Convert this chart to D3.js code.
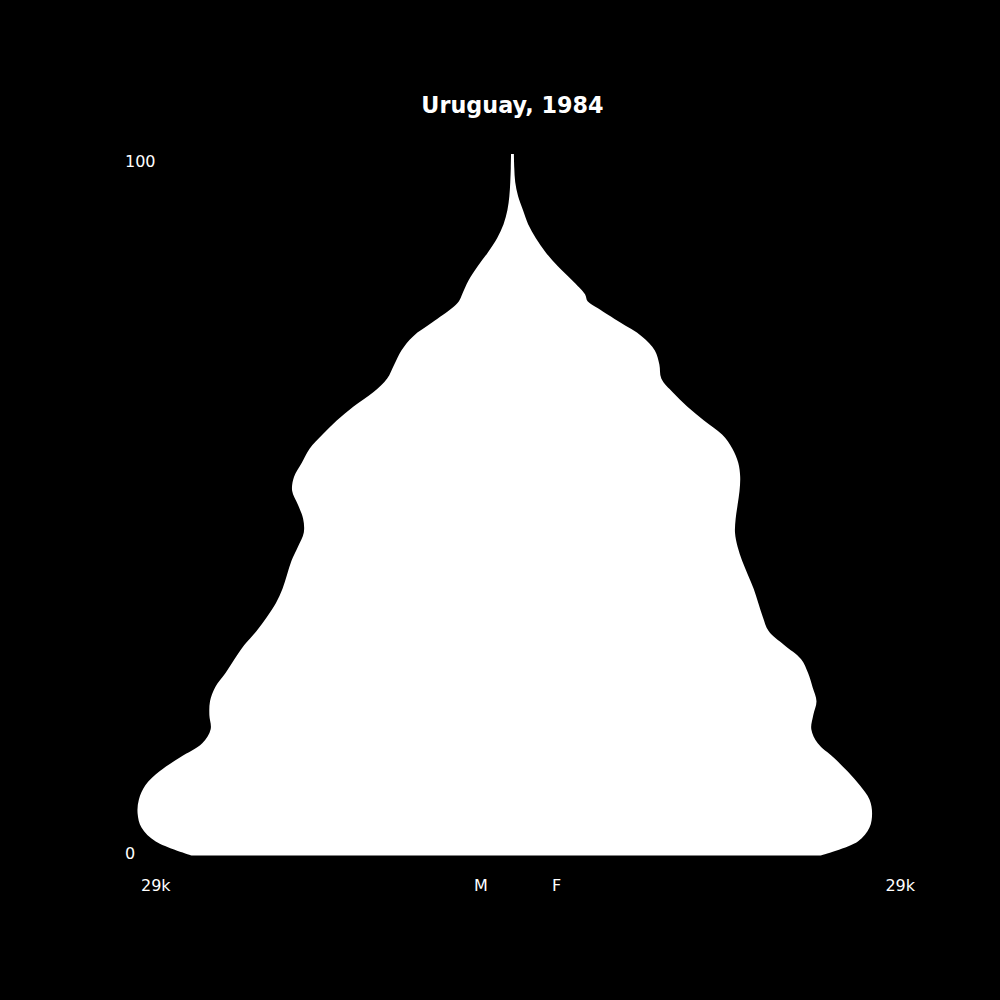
<!DOCTYPE html>
<html lang="en">
<head>
<meta charset="utf-8">
<title>Uruguay, 1984</title>
<script src="https://cdnjs.cloudflare.com/ajax/libs/d3/7.8.5/d3.min.js"></script>
<style>
  body { margin: 0; background: #000; }
  svg { display: block; }
  text { font-family: "DejaVu Sans", sans-serif; fill: #fff; }
</style>
</head>
<body>
<svg id="chart" width="1000" height="1000"></svg>
<script>
// single ages, population in thousands
var ages = [0, 2, 4, 6, 8, 10, 12, 14, 16, 18, 20, 22, 24, 26, 28, 30, 32, 34, 36, 38,
            40, 42, 44, 46, 48, 50, 52, 54, 56, 58, 60, 62, 64, 66, 68, 70, 72, 74, 76, 78,
            79, 80, 82, 84, 86, 88, 90, 92, 94, 96, 98, 100];
var male = [24.8, 27.6, 28.7, 29.0, 28.9, 28.4, 27.3, 25.7, 24.0, 23.35, 23.45, 23.4, 23.0, 22.2, 21.5, 20.75, 19.8, 19.0, 18.3, 17.8,
            17.45, 17.1, 16.6, 16.15, 16.2, 16.6, 17.05, 16.9, 16.3, 15.7, 14.7, 13.6, 12.3, 10.8, 9.7, 9.15, 8.6, 7.7, 6.2, 4.7,
            4.15, 3.9, 3.4, 2.7, 1.9, 1.2, 0.7, 0.4, 0.25, 0.18, 0.14, 0.12];
var female = [23.8, 26.7, 27.6, 27.8, 27.6, 26.85, 25.9, 24.8, 23.6, 23.1, 23.25, 23.5, 23.2, 22.85, 22.3, 21.0, 19.8, 19.35, 19.0, 18.65,
              18.2, 17.75, 17.4, 17.2, 17.25, 17.4, 17.55, 17.6, 17.45, 17.0, 16.2, 14.8, 13.5, 12.4, 11.5, 11.35, 11.0, 10.0, 8.3, 6.6,
              5.8, 5.6, 4.6, 3.5, 2.55, 1.8, 1.2, 0.8, 0.42, 0.2, 0.13, 0.1];
var maxLabel = "29k";
var title = "Uruguay, 1984";

var svg = d3.select("#chart");
svg.append("rect").attr("width", 1000).attr("height", 1000).attr("fill", "#000");

var cx = 512.6;
var y = d3.scaleLinear().domain([0, 100]).range([855.5, 154]);
var xm = d3.scaleLinear().domain([0, 29]).range([cx, cx - 375]);
var xf = d3.scaleLinear().domain([0, 29]).range([cx, cx + 375]);

var rows = ages.map(function (a, i) { return { age: a, m: male[i], f: female[i] }; });

var area = d3.area()
  .y(function (d) { return y(d.age); })
  .x0(function (d) { return xm(d.m); })
  .x1(function (d) { return xf(d.f); })
  .curve(d3.curveCatmullRom.alpha(0.5));

svg.append("path").datum(rows).attr("d", area).attr("fill", "#fff");

svg.append("text").text(title)
  .attr("x", 512.5).attr("y", 112.5)
  .attr("text-anchor", "middle")
  .attr("font-size", "22.3px").attr("font-weight", "bold");

// age labels
svg.append("text").text(ages[ages.length - 1]).attr("x", 125).attr("y", 166.5).attr("font-size", "16px");
svg.append("text").text(ages[0]).attr("x", 125).attr("y", 858.5).attr("font-size", "16px");

// bottom labels
svg.append("text").text(maxLabel).attr("x", 141).attr("y", 890.5).attr("font-size", "16px");
svg.append("text").text(maxLabel).attr("x", 915).attr("y", 890.5).attr("font-size", "16px").attr("text-anchor", "end");
svg.append("text").text("M").attr("x", 481).attr("y", 890.5).attr("font-size", "16px").attr("text-anchor", "middle");
svg.append("text").text("F").attr("x", 556.6).attr("y", 890.5).attr("font-size", "16px").attr("text-anchor", "middle");
</script>
</body>
</html>
